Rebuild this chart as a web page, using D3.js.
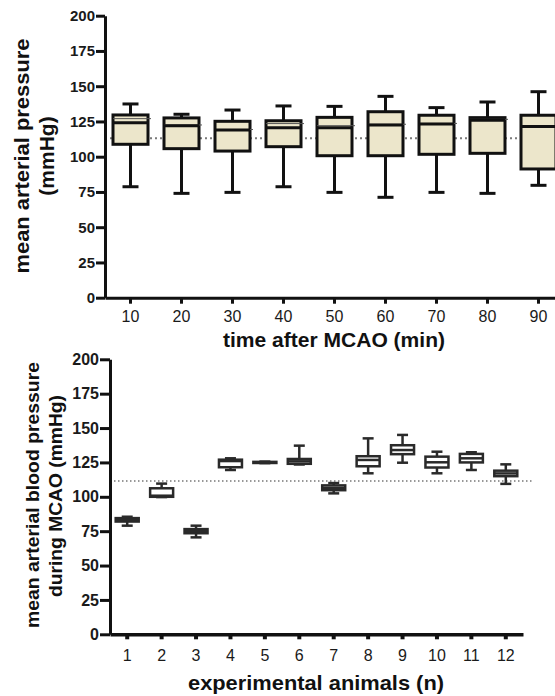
<!DOCTYPE html>
<html>
<head>
<meta charset="utf-8">
<script src="https://cdn.jsdelivr.net/npm/d3@7"></script>
<style>
  body { margin: 0; background: #fff; }
  svg { display: block; font-family: "Liberation Sans", Arial, Helvetica, sans-serif; }
</style>
</head>
<body>
<svg id="chart" width="555" height="696"></svg>
<script>
// ---- Panel A: mean arterial pressure vs. time after MCAO ----
const times     = [10, 20, 30, 40, 50, 60, 70, 80, 90];
const timeMax   = [137.4, 130.1, 133.1, 136.0, 135.7, 142.8, 134.8, 138.8, 146.1];
const timeQ3    = [129.6, 127.5, 125.1, 125.5, 127.9, 131.9, 129.4, 127.7, 129.4];
const timeMed   = [124.1, 122.0, 118.9, 120.6, 120.6, 122.5, 123.2, 125.8, 121.5];
const timeMean  = [127.0, 122.5, 119.3, 123.5, 122.0, 123.0, 123.6, 126.5, 122.0];
const timeQ1    = [108.8, 105.7, 104.0, 107.1, 100.7, 100.7, 101.7, 102.4, 91.3];
const timeMin   = [78.7, 74.0, 74.7, 78.7, 74.7, 71.2, 74.7, 74.0, 79.7];
const timeRef   = 113;

// ---- Panel B: MAP per experimental animal during MCAO ----
const animals   = [1, 2, 3, 4, 5, 6, 7, 8, 9, 10, 11, 12];
const animalMax = [85.5, 109.6, 79.0, 128.0, 125.6, 137.2, 110.0, 142.5, 145.0, 132.8, 132.4, 123.6];
const animalQ3  = [84.5, 106.2, 76.5, 127.0, 125.4, 127.5, 108.3, 129.5, 137.5, 129.2, 131.2, 119.0];
const animalMed = [83.2, 100.8, 75.0, 126.0, 125.0, 125.8, 106.5, 126.8, 134.0, 125.1, 128.0, 117.0];
const animalQ1  = [82.0, 100.0, 73.5, 121.5, 124.6, 124.0, 104.8, 122.2, 131.0, 121.3, 125.0, 115.0];
const animalMin = [79.0, 99.8, 70.5, 119.5, 124.5, 123.5, 102.5, 117.1, 124.8, 117.1, 119.5, 109.4];
const animalRef = 111.5;

const yTicks = [0, 25, 50, 75, 100, 125, 150, 175, 200];

const svg = d3.select("#chart");

function rows(keys, mx, q3, med, q1, mn, mean) {
  return keys.map((k, i) => ({ key: k, max: mx[i], q3: q3[i], med: med[i], q1: q1[i], min: mn[i], mean: mean ? mean[i] : null }));
}

function drawBoxes(g, data, x, y, o) {
  const c = x.bandwidth() / 2;
  const grp = g.selectAll("g.box").data(data).join("g").attr("class", "box")
    .attr("transform", d => `translate(${x(d.key) + c},0)`);
  // whiskers
  grp.append("line").attr("x1", 0).attr("x2", 0)
    .attr("y1", d => y(d.max)).attr("y2", d => y(d.q3))
    .attr("stroke", o.stroke).attr("stroke-width", o.sw);
  grp.append("line").attr("x1", 0).attr("x2", 0)
    .attr("y1", d => y(d.q1)).attr("y2", d => y(d.min))
    .attr("stroke", o.stroke).attr("stroke-width", o.sw);
  // caps
  grp.append("line").attr("x1", -o.cap / 2).attr("x2", o.cap / 2)
    .attr("y1", d => y(d.max)).attr("y2", d => y(d.max))
    .attr("stroke", o.stroke).attr("stroke-width", o.sw);
  grp.append("line").attr("x1", -o.cap / 2).attr("x2", o.cap / 2)
    .attr("y1", d => y(d.min)).attr("y2", d => y(d.min))
    .attr("stroke", o.stroke).attr("stroke-width", o.sw);
  // box
  grp.append("rect").attr("x", -o.w / 2).attr("width", o.w)
    .attr("y", d => y(d.q3)).attr("height", d => Math.max(0.5, y(d.q1) - y(d.q3)))
    .attr("fill", o.fill).attr("stroke", o.stroke).attr("stroke-width", o.sw);
  // mean (thin)
  grp.filter(d => d.mean != null).append("line")
    .attr("x1", -o.w / 2).attr("x2", o.w / 2 + 3)
    .attr("y1", d => y(d.mean)).attr("y2", d => y(d.mean))
    .attr("stroke", "#555").attr("stroke-width", 1);
  // median
  grp.append("line").attr("x1", -o.w / 2).attr("x2", o.w / 2)
    .attr("y1", d => y(d.med)).attr("y2", d => y(d.med))
    .attr("stroke", o.stroke).attr("stroke-width", o.sw);
}

function styleAxis(g, sw, color) {
  g.select(".domain").attr("stroke", color).attr("stroke-width", sw);
  g.selectAll(".tick line").attr("stroke", color).attr("stroke-width", sw);
}

// ================= Panel A =================
{
  const x = d3.scaleBand().domain(times).range([105, 564]).padding(0);
  const y = d3.scaleLinear().domain([0, 200]).range([297.7, 15.7]);
  const g = svg.append("g");

  // reference line
  g.append("line").attr("x1", x.range()[0]).attr("x2", x.range()[1])
    .attr("y1", y(timeRef)).attr("y2", y(timeRef))
    .attr("stroke", "#7a7a7a").attr("stroke-width", 2).attr("stroke-dasharray", "2,3");

  drawBoxes(g, rows(times, timeMax, timeQ3, timeMed, timeQ1, timeMin, timeMean), x, y,
    { w: 35, cap: 16, sw: 3, stroke: "#111", fill: "#ece6cb" });

  const ya = g.append("g").attr("transform", "translate(105,0)")
    .call(d3.axisLeft(y).tickValues(yTicks).tickSize(9).tickSizeOuter(0).tickPadding(1));
  styleAxis(ya, 3, "#111");
  ya.selectAll(".tick text").attr("font-size", 15).attr("font-weight", "bold")
    .attr("fill", "#1a1a1a").attr("font-family", "Liberation Sans, Arial, sans-serif");

  const xa = g.append("g").attr("transform", `translate(0,${y(0)})`)
    .call(d3.axisBottom(x).tickSize(6).tickSizeOuter(0).tickPadding(7));
  styleAxis(xa, 3, "#111");
  xa.selectAll(".tick text").attr("font-size", 16).attr("fill", "#1a1a1a")
    .attr("font-family", "Liberation Sans, Arial, sans-serif");

  g.append("text").attr("x", 334).attr("y", 347).attr("text-anchor", "middle")
    .attr("font-size", 20).attr("font-weight", "bold").attr("fill", "#111")
    .attr("textLength", 222).attr("lengthAdjust", "spacingAndGlyphs")
    .text("time after MCAO (min)");

  g.append("text").attr("transform", "translate(29,156) rotate(-90)")
    .attr("text-anchor", "middle").attr("font-size", 21).attr("font-weight", "bold").attr("fill", "#111")
    .attr("textLength", 235).attr("lengthAdjust", "spacingAndGlyphs")
    .text("mean arterial pressure");
  g.append("text").attr("transform", "translate(54,156) rotate(-90)")
    .attr("text-anchor", "middle").attr("font-size", 21).attr("font-weight", "bold").attr("fill", "#111")
    .text("(mmHg)");
}

// ================= Panel B =================
{
  const x = d3.scaleBand().domain(animals).range([110, 523]).padding(0);
  const y = d3.scaleLinear().domain([0, 200]).range([634.3, 359.3]);
  const g = svg.append("g");

  g.append("line").attr("x1", 110).attr("x2", 534)
    .attr("y1", y(animalRef)).attr("y2", y(animalRef))
    .attr("stroke", "#777").attr("stroke-width", 1.5).attr("stroke-dasharray", "1.5,2.5");

  drawBoxes(g, rows(animals, animalMax, animalQ3, animalMed, animalQ1, animalMin, null), x, y,
    { w: 23, cap: 11, sw: 2.5, stroke: "#2a2a2a", fill: "#fff" });

  const ya = g.append("g").attr("transform", "translate(110,0)")
    .call(d3.axisLeft(y).tickValues(yTicks).tickSize(10).tickSizeOuter(0).tickPadding(1));
  styleAxis(ya, 3, "#111");
  ya.selectAll(".tick text").attr("font-size", 16).attr("font-weight", "bold")
    .attr("fill", "#1a1a1a").attr("font-family", "Liberation Sans, Arial, sans-serif");

  const xa = g.append("g").attr("transform", `translate(0,${y(0)})`)
    .call(d3.axisBottom(x).tickSize(5).tickSizeOuter(0).tickPadding(10));
  styleAxis(xa, 3.5, "#111");
  xa.selectAll(".tick line").attr("stroke-width", 4);
  xa.selectAll(".tick text").attr("font-size", 16).attr("fill", "#1a1a1a")
    .attr("font-family", "Liberation Sans, Arial, sans-serif");

  g.append("text").attr("x", 316).attr("y", 690).attr("text-anchor", "middle")
    .attr("font-size", 21).attr("font-weight", "bold").attr("fill", "#111")
    .attr("textLength", 256).attr("lengthAdjust", "spacingAndGlyphs")
    .text("experimental animals (n)");

  g.append("text").attr("transform", "translate(39,495) rotate(-90)")
    .attr("text-anchor", "middle").attr("font-size", 19).attr("font-weight", "bold").attr("fill", "#111")
    .attr("textLength", 266).attr("lengthAdjust", "spacingAndGlyphs")
    .text("mean arterial blood pressure");
  g.append("text").attr("transform", "translate(62,496) rotate(-90)")
    .attr("text-anchor", "middle").attr("font-size", 19).attr("font-weight", "bold").attr("fill", "#111")
    .attr("textLength", 202).attr("lengthAdjust", "spacingAndGlyphs")
    .text("during MCAO (mmHg)");
}
</script>
</body>
</html>
